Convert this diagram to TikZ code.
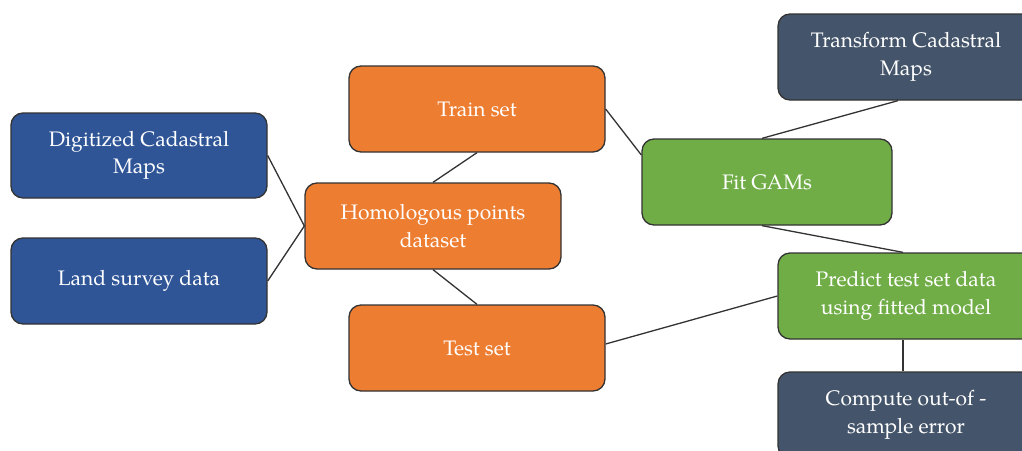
\documentclass[tikz,border=0pt]{standalone}
\usepackage{fontspec}
\setmainfont{TeX Gyre Pagella}
\definecolor{cblue}{HTML}{2F5597}
\definecolor{corange}{HTML}{ED7D31}
\definecolor{cgreen}{HTML}{70AD47}
\definecolor{cslate}{HTML}{44546A}
\definecolor{cline}{HTML}{333333}
\begin{document}
\begin{tikzpicture}[x=1pt,y=-1pt,
  box/.style={draw=cline,line width=1.3pt,rounded corners=12pt,minimum width=256pt,minimum height=86pt,
    text=white,align=center,inner sep=0pt,font=\fontsize{21}{27.5}\selectfont},
  conn/.style={draw=cline,line width=1.3pt}]
\useasboundingbox (0,0) rectangle (1022,450);
\fill[white] (0,0) rectangle (1022,450);
\node[box,fill=cblue,minimum height=85pt] (dig) at (139,155.5) {Digitized Cadastral\\Maps};
\node[box,fill=cblue] (land) at (139,281) {Land survey data};
\node[box,fill=corange] (hom) at (433,226) {Homologous points\\dataset};
\node[box,fill=corange] (train) at (477,109) {Train set};
\node[box,fill=corange] (test) at (477,348) {Test set};
\node[box,fill=cgreen,minimum width=250pt] (fit) at (767,182) {Fit GAMs};
\node[box,fill=cslate] (trans) at (906,57) {Transform Cadastral\\Maps};
\node[box,fill=cgreen] (pred) at (906,296) {Predict test set data\\using fitted model};
\node[box,fill=cslate] (comp) at (906,415) {Compute out-of -\\sample error};
\draw[conn] (dig.east) -- (hom.west);
\draw[conn] (land.east) -- (hom.west);
\draw[conn] (hom.north) -- (train.south);
\draw[conn] (hom.south) -- (test.north);
\draw[conn] (train.east) -- ([yshift=27pt]fit.west);
\draw[conn] ([xshift=-5pt]fit.north) -- ([xshift=-8pt]trans.south);
\draw[conn] ([xshift=-5pt]fit.south) -- ([xshift=-3pt]pred.north);
\draw[conn] ([yshift=4pt]test.east) -- (pred.west);
\draw[conn] ([xshift=-3pt]pred.south) -- ([xshift=-3pt]comp.north);
\end{tikzpicture}
\end{document}
